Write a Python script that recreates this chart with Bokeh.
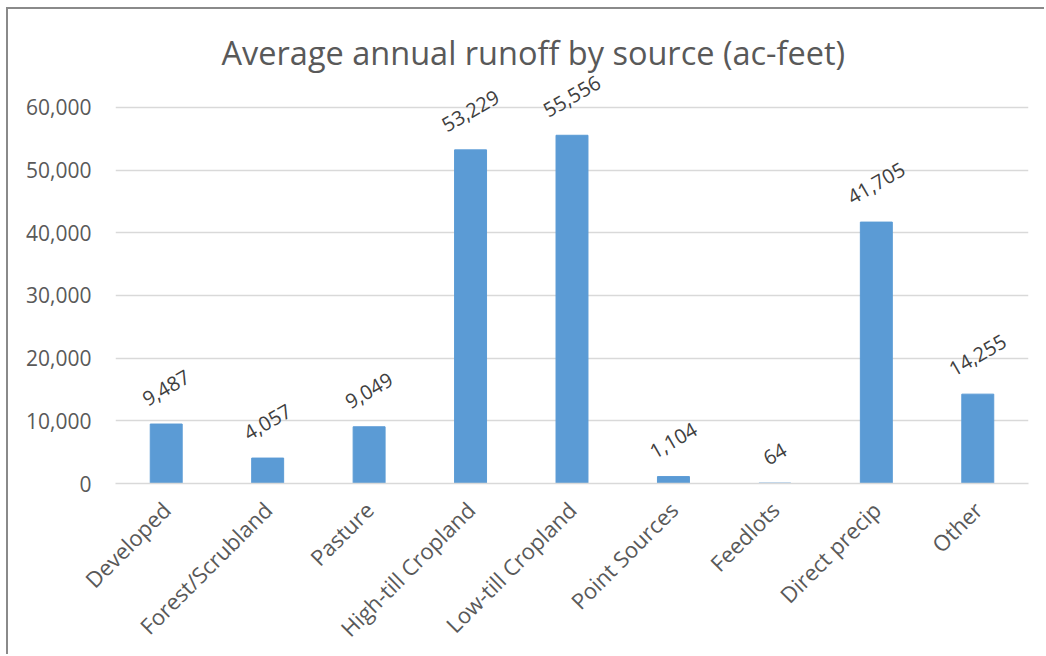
from math import pi
from bokeh.plotting import figure
from bokeh.models import ColumnDataSource, Range1d, NumeralTickFormatter, FixedTicker, LabelSet
from bokeh.core.properties import value
from bokeh.embed import file_html
from bokeh.resources import INLINE

categories = ["Developed", "Forest/Scrubland", "Pasture", "High-till Cropland",
              "Low-till Cropland", "Point Sources", "Feedlots", "Direct precip", "Other"]
runoff = [9487, 4057, 9049, 53229, 55556, 1104, 64, 41705, 14255]
y_ticks = [0, 10000, 20000, 30000, 40000, 50000, 60000]
title_text = "Average annual runoff by source (ac-feet)"

FONT = "Open Sans"
LABEL_PX = 20

labels = ["{:,}".format(v) for v in runoff]


def label_offset(s):
    # approximate rendered width of the label, then lift it above the bar
    w = sum(0.27 if ch == "," else 0.572 for ch in s) * LABEL_PX
    return 17 + 0.5 * (w * 0.5 + 0.714 * LABEL_PX * 0.866)


src = ColumnDataSource(dict(cat=categories, val=runoff, label=labels,
                            off=[label_offset(s) for s in labels]))

# the frame is extended above the last gridline so the rotated value labels
# over the tallest bars are not clipped (gridlines stop at 60,000)
TOP_GRID_PX = 377   # pixel height from 0 to 60,000
FRAME_PX = 410      # frame height
y_end = y_ticks[-1] * FRAME_PX / TOP_GRID_PX

p = figure(x_range=categories, y_range=Range1d(0, y_end),
           width=1038, height=647, output_backend="svg", toolbar_location=None,
           min_border_left=107, min_border_right=18, min_border_top=65, min_border_bottom=158)
p.styles = {"border-left": "2px solid #8a8a8a", "border-top": "2px solid #8a8a8a",
            "margin-left": "6px", "margin-top": "7px"}

p.title.text = title_text
p.title.align = "left"
p.title.offset = 106
p.title.text_font = FONT
p.title.text_font_size = "32.5px"
p.title.text_font_style = "normal"
p.title.text_color = "#595959"
p.title.standoff = 0

p.vbar(x="cat", top="val", width=0.315, source=src, color="#5B9BD5")
p.add_layout(LabelSet(x="cat", y="val", text="label", source=src, angle=pi / 6,
                      text_align="center", text_baseline="middle", y_offset="off",
                      text_font=value(FONT), text_font_size=f"{LABEL_PX}px",
                      text_color="#404040", level="overlay"))

p.yaxis.ticker = FixedTicker(ticks=y_ticks)
p.yaxis.formatter = NumeralTickFormatter(format="0,0")
p.yaxis.axis_line_color = None
p.yaxis.major_tick_line_color = None
p.yaxis.minor_tick_line_color = None
p.yaxis.major_label_standoff = 18

p.xaxis.axis_line_color = "#D9D9D9"
p.xaxis.axis_line_width = 1.5
p.xaxis.major_tick_line_color = None
p.xaxis.minor_tick_line_color = None
p.xaxis.major_label_orientation = pi / 4
p.xaxis.major_label_standoff = 16

for ax in (p.xaxis, p.yaxis):
    ax.major_label_text_font = FONT
    ax.major_label_text_color = "#595959"
p.yaxis.major_label_text_font_size = "21px"
p.xaxis.major_label_text_font_size = "22px"

p.xgrid.grid_line_color = None
p.ygrid.grid_line_color = "#D9D9D9"
p.ygrid.grid_line_width = 1.5
p.outline_line_color = None
p.x_range.range_padding = 0

open("out.html", "w").write(file_html(p, INLINE))
